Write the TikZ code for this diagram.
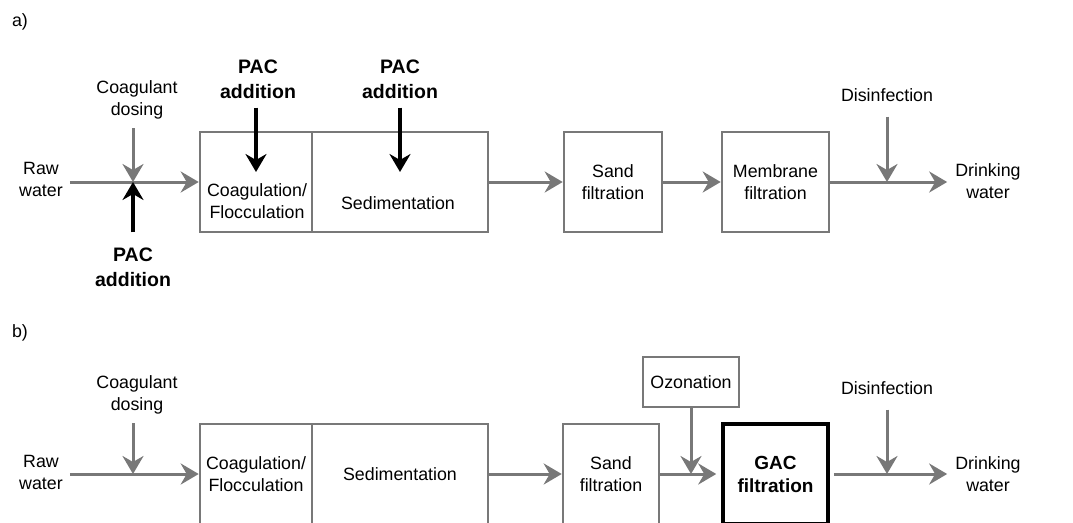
\documentclass[tikz,border=0pt]{standalone}
\usepackage{fontspec}
\setmainfont{Liberation Sans}
\usetikzlibrary{arrows.meta,positioning}
\definecolor{flowgray}{RGB}{120,120,120}
\tikzset{
	lbl/.style={align=center,inner sep=3pt,font=\fontsize{17.8}{22}\selectfont},
	paclbl/.style={align=center,inner sep=3pt,font=\bfseries\fontsize{19.5}{25}\selectfont},
	unit/.style={lbl,draw=flowgray,line width=2.6pt,inner sep=0pt,minimum height=100pt},
	flow/.style={draw=flowgray,line width=3pt,-{Stealth[length=18pt,width=21pt,inset=6pt]}},
	pacflow/.style={draw=black,line width=3.2pt,-{Stealth[length=18pt,width=21pt,inset=6pt]}}
}

\begin{document}
\begin{tikzpicture}[x=1pt,y=-1pt]
	\useasboundingbox (0,0) rectangle (1073,522);
	\clip (0,0) rectangle (1073,522);
	\node[lbl] (taga)		at	(20,22)		{a)};
		\node[lbl] (rawa)		at	(41,179)	{Raw\\water};
		\node[lbl] (dosea)		at	(137,100)	{Coagulant\\dosing};
		\node[paclbl] (paca)	at	(133,267)	{PAC\\addition};
		\node[paclbl] (pacb)	at	(258,79)	{PAC\\addition};
		\node[paclbl] (pacc)	at	(400,79)	{PAC\\addition};
		\node[unit,minimum width=112pt] (coaga)	at	(256,182)	{};
		\node[lbl] (coagatxt)	at	(257,201)	{Coagulation/\\Flocculation};
		\node[unit,minimum width=176pt] (seda)	at	(400,182)	{};
		\node[lbl] (sedatxt)	at	(398,203)	{Sedimentation};
		\node[unit,minimum width=98pt] (sanda)	at	(613,182)	{Sand\\filtration};
		\node[unit,minimum width=107pt] (mema)	at	(775.5,182)	{Membrane\\filtration};
		\node[lbl] (disa)		at	(887,95)	{Disinfection};
		\node[lbl] (drinka)		at	(988,181)	{Drinking\\water};
		\coordinate (mixa)		at	(133,182);
		\coordinate (pacbtip)	at	(256,172);
		\coordinate (pacctip)	at	(400,172);
		\coordinate (disjoina)	at	(887,182);
		\draw[flow,shorten <=4pt] (rawa.east |- mixa) -- (coaga);
		\draw[flow,shorten <=6pt] (dosea.south -| mixa) -- (mixa);
		\draw[pacflow,shorten <=12pt] (paca.north -| mixa) -- (mixa);
		\draw[pacflow,shorten <=6pt] (pacb.south -| pacbtip) -- (pacbtip);
		\draw[pacflow,shorten <=6pt] (pacc.south -| pacctip) -- (pacctip);
		\draw[flow] (seda) -- (sanda);
		\draw[flow] (sanda) -- (mema);
		\draw[flow,shorten >=5pt] (mema) -- (drinka.west |- mema.east);
		\draw[flow,shorten <=12pt] (disa.south) -- (disjoina);
	\node[lbl] (tagb)		at	(20,333)	{b)};
		\node[lbl] (rawb)		at	(41,472)	{Raw\\water};
		\node[lbl] (doseb)		at	(137,394.5)	{Coagulant\\dosing};
		\node[unit,minimum width=112pt] (coagb)	at	(256,474)	{Coagulation/\\Flocculation};
		\node[unit,minimum width=176pt] (sedb)	at	(400,474)	{Sedimentation};
		\node[unit,minimum width=96pt] (sandb)	at	(611,474)	{Sand\\filtration};
		\node[unit,minimum width=96pt,minimum height=50pt] (ozon)	at	(691,382)	{Ozonation};
		\node[unit,draw=black,line width=3.5pt,minimum width=105pt,font=\bfseries\fontsize{19}{23}\selectfont] (gac)	at	(775.5,474)	{GAC\\filtration};
		\node[lbl] (disb)		at	(887,388)	{Disinfection};
		\node[lbl] (drinkb)		at	(988,474)	{Drinking\\water};
		\coordinate (mixb)		at	(133,474);
		\coordinate (ozjoin)	at	(691,474);
		\coordinate (disjoinb)	at	(887,474);
		\draw[flow,shorten <=4pt] (rawb.east |- mixb) -- (coagb);
		\draw[flow,shorten <=6pt] (doseb.south -| mixb) -- (mixb);
		\draw[flow] (sedb) -- (sandb);
		\draw[flow,shorten >=5pt] (sandb) -- (gac);
		\draw[flow] (ozon) -- (ozjoin);
		\draw[flow,shorten <=4pt,shorten >=5pt] (gac) -- (drinkb.west |- gac.east);
		\draw[flow,shorten <=12pt] (disb.south) -- (disjoinb);
\end{tikzpicture}
\end{document}
